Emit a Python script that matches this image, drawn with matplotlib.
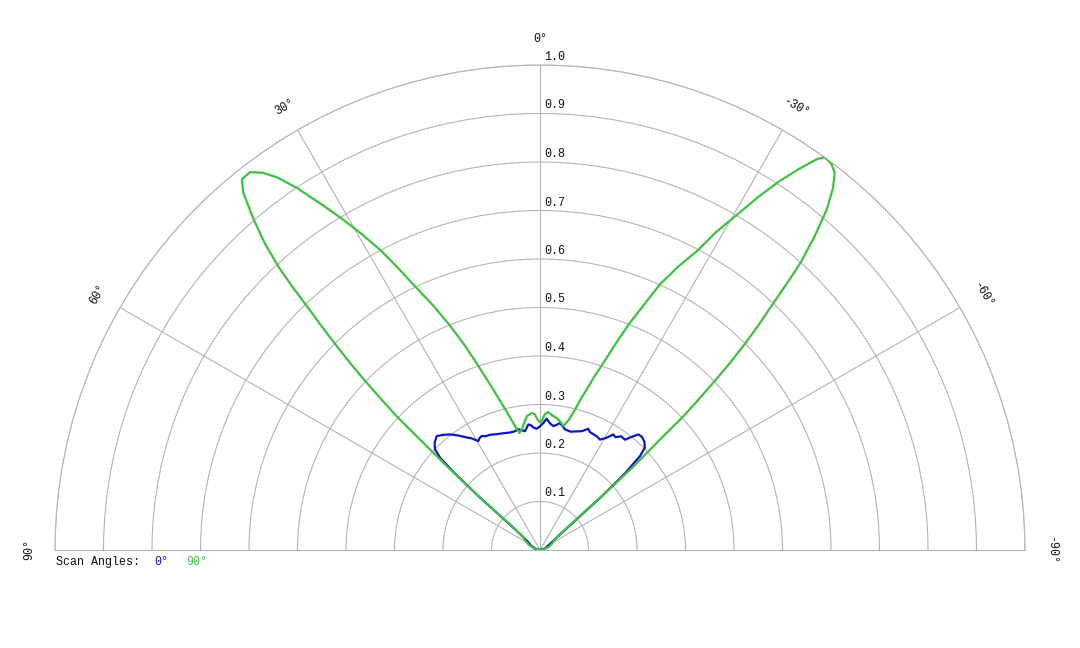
import numpy as np
import matplotlib
matplotlib.use("Agg")
import matplotlib.pyplot as plt

# scan angle 0 deg (blue): angle in degrees (positive = left), normalised value
blue_theta = [-90, -75, -62, -55, -51.5, -50, -49, -48, -46.8, -45.7, -44, -42, -40.4,
              -39, -37.6, -35.5, -33.8, -32.4, -30.5, -28.5, -26.5, -24.5, -23, -21.7,
              -19.5, -17.2, -14.5, -11.7, -10.2, -8.9, -7.5, -6.1, -4.5, -2.9, -1.5, 0,
              1.6, 3.1, 4.2, 5.3, 7.2, 8.8, 10.2, 12.3, 14.3, 17, 20.5, 23.5, 25.5, 27.1,
              28.5, 29.5, 31.5, 33.1, 35.5, 37.9, 40, 42.2, 44.5, 46.2, 47.3, 48, 48.8,
              49.7, 51.5, 56, 65, 78, 90]
blue_r = [0.0, 0.01, 0.02, 0.035, 0.06, 0.1, 0.17, 0.235, 0.283, 0.302, 0.31, 0.314, 0.313,
          0.3, 0.287, 0.288, 0.28, 0.282, 0.268, 0.259, 0.262, 0.263, 0.264, 0.269,
          0.26, 0.256, 0.252, 0.254, 0.26, 0.265, 0.26, 0.257, 0.262, 0.271, 0.262, 0.255,
          0.25, 0.253, 0.258, 0.26, 0.247, 0.25, 0.253, 0.25, 0.25, 0.252, 0.255, 0.259,
          0.26, 0.264, 0.262, 0.258, 0.27, 0.277, 0.29, 0.302, 0.31, 0.317, 0.31, 0.30,
          0.28, 0.24, 0.17, 0.09, 0.05, 0.03, 0.02, 0.01, 0.0]

# scan angle 90 deg (green)
green_theta = [-90, -80, -70, -62, -56, -52, -50, -49, -48.2, -47.3, -47, -46.5, -46, -45.5,
               -44.9, -44.2, -43.4, -42.8, -42.2, -41.2, -40.1, -39, -38, -37, -35.9, -35.3,
               -34.2, -33, -31.7, -30.4, -29, -27.7, -26, -24.3, -23, -21.6, -20.2, -18.7,
               -17.4, -16.2, -15, -14, -12.5, -10.7, -8.5, -6.5, -5.5, -3.3, -2, -1, 0,
               1.2, 2.2, 3.3, 4.5, 5.5, 7, 8.5, 10, 11.5, 13, 14.5, 16.5, 18.5, 20.2, 21.9,
               23.6, 25.3, 26.7, 28, 29.5, 31, 32.5, 33.9, 35.2, 36.3, 37.5, 38.8, 39.7,
               40.9, 41.9, 42.7, 43.2, 43.7, 44.3, 44.9, 45.5, 46, 46.5, 47, 47.5, 48,
               48.8, 49.7, 52, 58, 65, 75, 90]
green_r = [0.0, 0.008, 0.02, 0.028, 0.035, 0.05, 0.085, 0.17, 0.26, 0.346, 0.404, 0.45,
           0.497, 0.545, 0.594, 0.645, 0.70, 0.75, 0.80, 0.86, 0.918, 0.96, 0.987, 0.998,
           1.0, 0.987, 0.95, 0.907, 0.855, 0.80, 0.75, 0.696, 0.65, 0.601, 0.55, 0.504,
           0.455, 0.407, 0.375, 0.344, 0.32, 0.298, 0.275, 0.26, 0.27, 0.276, 0.278, 0.285,
           0.28, 0.268, 0.263, 0.27, 0.28, 0.283, 0.28, 0.278, 0.265, 0.252, 0.245, 0.262,
           0.285, 0.31, 0.35, 0.40, 0.45, 0.50, 0.55, 0.60, 0.65, 0.70, 0.75, 0.80, 0.85,
           0.90, 0.94, 0.965, 0.982, 0.981, 0.958, 0.902, 0.85, 0.796, 0.75, 0.696, 0.645,
           0.594, 0.545, 0.497, 0.45, 0.404, 0.317, 0.26, 0.17, 0.08, 0.045, 0.035, 0.025,
           0.012, 0.0]

ring_values = [0.1, 0.2, 0.3, 0.4, 0.5, 0.6, 0.7, 0.8, 0.9, 1.0]
ring_labels = ["0.1", "0.2", "0.3", "0.4", "0.5", "0.6", "0.7", "0.8", "0.9", "1.0"]
spoke_angles = [-60, -30, 0, 30, 60]
angle_ticks = [90, 60, 30, 0, -30, -60, -90]
angle_labels = ["90°", "60°", "30°", "0°", "-30°", "-60°", "-90°"]

blue = "#0b16c4"
green = "#3ec23e"
grid_c = "#b4b4b4"
font = "Liberation Mono"
fs = 8.4

W, H = 1080, 648
fig = plt.figure(figsize=(W / 100, H / 100), dpi=100)
# half disc: centre at (540, 550) px, radius 485 px; the polar box stays square,
# so give it a 970x970 square whose middle is the middle of the half disc
cx, cy, R = 540, 550, 485
box_bottom = H - (cy - R / 2) - R
ax = fig.add_axes([(cx - R) / W, box_bottom / H, 2 * R / W, 2 * R / H], projection="polar")
ax.set_theta_zero_location("N")
ax.set_theta_direction(1)
ax.set_thetamin(-90)
ax.set_thetamax(90)
ax.set_ylim(0, 1.0)

ax.set_thetagrids(spoke_angles, labels=[""] * len(spoke_angles))
ax.set_rgrids(ring_values, labels=[""] * len(ring_values))
ax.grid(True, color=grid_c, linewidth=0.8)
for sp in ax.spines.values():
    sp.set_color(grid_c)
    sp.set_linewidth(0.8)
ax.tick_params(length=0)

ax.plot(np.deg2rad(blue_theta), blue_r, color=blue, linewidth=1.6, zorder=3)
ax.plot(np.deg2rad(green_theta), green_r, color=green, linewidth=1.6, zorder=4)

# radial labels just right of the 0 deg spoke
for v, lab in zip(ring_values, ring_labels):
    ax.annotate(lab, xy=(0, v), xytext=(4, 2), textcoords="offset pixels",
                ha="left", va="bottom", fontsize=fs, family=font, color="#111111",
                annotation_clip=False)

# angle labels outside the outer ring
for a, lab in zip(angle_ticks, angle_labels):
    ax.text(np.deg2rad(a), 1.054, lab, rotation=a, ha="center", va="center",
            fontsize=fs, family=font, color="#111111", rotation_mode="anchor")

# legend line under the chart
ly = 1 - 562 / H
fig.text(56 / W, ly, "Scan Angles:", ha="left", va="center", fontsize=fs,
         family=font, color="#111111")
fig.text(154 / W, ly, "0°", ha="left", va="center", fontsize=fs, family=font, color=blue)
fig.text(186 / W, ly, "90°", ha="left", va="center", fontsize=fs, family=font, color=green)

fig.savefig("out.png", dpi=100)
